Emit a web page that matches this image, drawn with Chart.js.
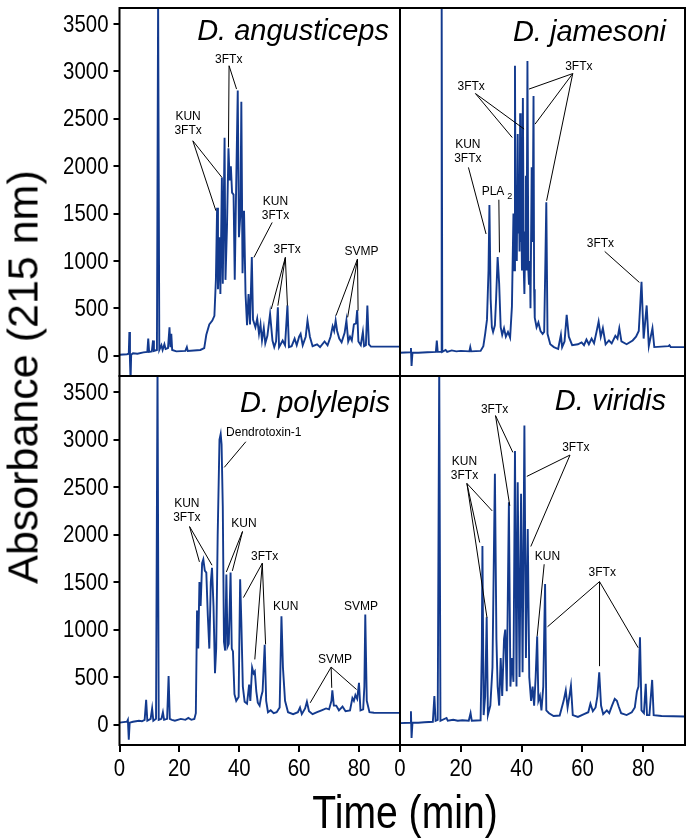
<!DOCTYPE html>
<html>
<head>
<meta charset="utf-8">
<script src="https://cdn.jsdelivr.net/npm/chart.js@4.4.0/dist/chart.umd.min.js"></script>
<style>
  html, body { margin: 0; padding: 0; background: #fff; }
  #page { position: relative; width: 688px; height: 839px; overflow: hidden; }
  .panel { position: absolute; }
  .title { position: absolute; white-space: nowrap; color: #000;
           font-family: 'Liberation Sans', Arial, sans-serif; }
  #ytitle { left: 23px; top: 377px; font-size: 43px; transform: translate(-50%, -50%) rotate(-90deg); }
  #xtitle { left: 405px; top: 812px; font-size: 46px; transform: translate(-50%, -50%) scaleX(0.85); }
</style>
</head>
<body>
<div id="page">
  <div class="panel" style="left:0;top:0;width:402px;height:378px"><canvas id="cTL"></canvas></div>
  <div class="panel" style="left:378px;top:0;width:310px;height:378px"><canvas id="cTR"></canvas></div>
  <div class="panel" style="left:0;top:374px;width:402px;height:460px"><canvas id="cBL"></canvas></div>
  <div class="panel" style="left:378px;top:374px;width:310px;height:460px"><canvas id="cBR"></canvas></div>
  <div class="title" id="ytitle">Absorbance (215 nm)</div>
  <div class="title" id="xtitle">Time (min)</div>
</div>
<script>
// tick labels
var timeTicks = [0, 20, 40, 60, 80];
var absTicks = [0, 500, 1000, 1500, 2000, 2500, 3000, 3500];

// chromatograms, [time (min), absorbance]
var angusticeps = [
  [0, 10], [2.5, 15], [3.1, 20], [3.3, 250], [3.5, -60], [3.7, -260], [3.9, 10], [4.5, 25], [6, 20], [8, 35],
  [9.3, 40], [9.6, 180], [9.9, 40], [10.8, 45], [11.2, 160], [11.5, 50], [12.5, 60], [12.9, 3800], [13.3, 60],
  [14, 110], [14.4, 60], [15, 120], [15.4, 70], [16.2, 80], [16.7, 300], [17, 90], [17.3, 230], [17.6, 60],
  [19, 45], [22, 50], [22.5, 90], [22.8, 50], [27, 60], [28.3, 80], [29, 220], [30, 330], [31, 370], [31.7, 420],
  [32.2, 800], [32.6, 1560], [32.9, 700], [33.4, 1250], [33.7, 650], [34.2, 1880], [34.5, 760], [35.1, 2300],
  [35.4, 800], [35.9, 1350], [36.4, 2190], [36.8, 1850], [37.2, 2000], [37.6, 1720], [38.1, 1700], [38.5, 800],
  [38.9, 1650], [39.5, 2800], [39.9, 1250], [40.4, 1500], [40.7, 2680], [41.1, 870], [41.6, 1530], [42.1, 650],
  [42.6, 320], [43.1, 650], [43.6, 330], [44.2, 1040], [44.6, 380], [45.4, 300], [46, 390], [46.6, 230],
  [47.1, 330], [47.6, 160], [48.2, 290], [48.7, 130], [49.4, 210], [50.3, 440], [51.1, 160], [51.7, 90],
  [52.3, 150], [52.9, 510], [53.3, 90], [54.5, 160], [55.3, 110], [56.1, 530], [56.6, 90], [57.5, 100],
  [58.5, 180], [59.2, 110], [60, 200], [60.5, 230], [61.2, 110], [62.2, 200], [62.8, 370], [63.6, 200],
  [64.5, 100], [66, 120], [67, 90], [68.5, 150], [69.5, 110], [70.5, 200], [71.2, 310], [71.7, 260], [72.2, 370],
  [72.7, 260], [73.4, 180], [74.2, 140], [75.2, 240], [75.8, 370], [76.4, 150], [77, 200], [77.6, 160],
  [78.3, 330], [79, 340], [79.4, 480], [79.8, 150], [80.6, 110], [81.3, 250], [81.7, 100], [82.3, 110],
  [82.8, 530], [83.3, 120], [84, 95], [88, 95], [93.7, 95]
];
var jamesoni = [
  [0, 30], [3.3, 35], [3.6, 80], [3.8, -110], [4.1, 30], [6, 30], [9, 35], [11.8, 40], [12.1, 160], [12.4, 40],
  [13.5, 40], [13.7, 3800], [13.9, 40], [15, 60], [15.5, 40], [17, 55], [18.5, 45], [20, 50], [22.8, 45],
  [23.1, 90], [23.4, 45], [26.5, 50], [27.4, 100], [28, 230], [28.6, 380], [29.1, 900], [29.4, 1590], [29.8, 600],
  [30.2, 300], [30.6, 250], [31.2, 320], [31.6, 600], [32.1, 1040], [32.6, 760], [33.1, 300], [33.6, 220],
  [34.2, 290], [34.8, 200], [35.5, 250], [36.2, 190], [36.8, 520], [37.3, 1500], [37.5, 900], [37.8, 3060],
  [38, 1300], [38.2, 1800], [38.4, 1000], [38.7, 2340], [38.9, 1300], [39.1, 1700], [39.3, 1100], [39.5, 2560],
  [39.7, 1200], [39.9, 1500], [40.1, 900], [40.4, 2720], [40.7, 900], [40.9, 650], [41.2, 1300], [41.4, 1900],
  [41.6, 900], [41.9, 3110], [42.2, 900], [42.4, 750], [42.7, 1000], [42.9, 500], [43.3, 1990], [43.6, 1200],
  [43.9, 2740], [44.1, 700], [44.3, 400], [44.9, 300], [45.5, 350], [46.2, 260], [46.9, 230],
  [47.4, 250], [47.8, 1000], [48.1, 1620], [48.5, 230], [49.4, 120], [50.6, 90], [52, 70], [52.9, 220],
  [53.3, 90], [54.1, 150], [54.8, 430], [55.5, 200], [56.6, 110], [58.5, 120], [59.7, 140], [60.5, 110],
  [61.3, 170], [62.1, 120], [63, 180], [63.8, 130], [64.6, 250], [65.3, 360], [66, 200], [66.7, 290],
  [67.6, 120], [68.7, 160], [69.6, 130], [70.8, 210], [71.5, 180], [72.1, 290], [72.8, 150], [74.5, 120],
  [76.5, 160], [77.6, 200], [78.5, 260], [79.4, 780], [80.1, 180], [81.1, 530], [81.8, 100], [83, 290],
  [83.6, 90], [88.3, 100], [88.6, 110], [89, 90], [93.7, 90]
];
var polylepis = [
  [0, 20], [2.5, 30], [2.8, 50], [3.1, -160], [3.4, 20], [4.5, 30], [6.5, 40], [7.5, 35], [8.4, 50], [8.9, 260],
  [9.3, 40], [10.4, 60], [10.9, 170], [11.3, 40], [12.2, 60], [12.7, 3800], [13.1, 50], [14, 60], [14.5, 130],
  [14.9, 50], [15.9, 60], [16.4, 510], [16.8, 60], [17.5, 50], [18.5, 40], [20.5, 60], [22, 50], [23, 70],
  [24, 50], [25, 60], [25.5, 120], [25.9, 1200], [26.3, 800], [26.7, 1500], [27.1, 1250], [27.6, 1700],
  [28, 1740], [28.5, 1620], [29, 1600], [29.5, 1150], [30, 800], [30.5, 1500], [30.9, 1650], [31.4, 1250],
  [31.9, 540], [32.3, 800], [32.8, 2000], [33.4, 3000], [33.8, 3060], [34.1, 2950], [34.5, 2300], [34.9, 870],
  [35.3, 780], [35.7, 1580], [36.1, 820], [36.5, 850], [37.1, 1600], [37.5, 800], [37.9, 770], [38.4, 320],
  [39, 250], [39.8, 290], [40.3, 1530], [40.7, 1080], [41.2, 400], [41.8, 240], [42.6, 220], [43.3, 420],
  [43.7, 250], [44.3, 600], [44.8, 540], [45.2, 560], [45.7, 350], [46.2, 230], [46.8, 200], [47.3, 290],
  [47.8, 350], [48.5, 840], [49, 250], [49.6, 130], [50.5, 150], [51.5, 120], [52.5, 130], [53.5, 180],
  [54.1, 1140], [54.6, 600], [55.3, 250], [56.3, 130], [58, 110], [59.6, 130], [60.3, 180], [60.9, 110],
  [62, 170], [62.6, 240], [63.3, 140], [64.5, 110], [66, 130], [67.5, 150], [69, 170], [70, 160], [70.8, 250],
  [71.1, 360], [71.6, 200], [72.4, 200], [73.3, 150], [74.5, 190], [75.5, 140], [77, 150], [77.8, 280],
  [78.3, 250], [78.8, 310], [79.4, 270], [80, 440], [80.5, 150], [81.4, 160], [81.8, 400], [82.1, 1160],
  [82.6, 250], [83.5, 130], [85, 125], [93.7, 123]
];
var viridis = [
  [0, 15], [3.3, 20], [3.6, 140], [3.8, -140], [4.1, 20], [6, 20], [8, 25], [10.8, 30], [11.3, 300], [11.7, 40],
  [12.4, 50], [12.9, 3800], [13.3, 40], [15.3, 70], [15.7, 40], [17.5, 50], [19, 40], [20.5, 45], [22.6, 40],
  [23.2, 120], [23.6, 40], [26.5, 45], [26.9, 800], [27.1, 1880], [27.5, 100], [28, 300], [28.5, 1130],
  [28.9, 100], [29.7, 200], [30.4, 600], [31.2, 2640], [31.7, 900], [32.1, 400], [32.6, 200], [33.1, 700],
  [33.6, 300], [34.2, 900], [34.6, 1000], [35.1, 350], [35.8, 2340], [36.3, 400], [36.8, 700], [37.3, 450],
  [37.8, 2880], [38.3, 400], [38.7, 2550], [39.3, 500], [39.8, 2430], [40.3, 550], [40.9, 3150], [41.4, 700],
  [42, 2060], [42.5, 500], [43.1, 250], [43.6, 400], [44.1, 200], [44.6, 500], [45.1, 930], [45.5, 250],
  [46, 300], [46.5, 150], [47.1, 400], [47.7, 1480], [48.1, 150], [49, 120], [50.5, 90], [52.5, 95],
  [53.8, 250], [54.5, 360], [55.1, 180], [55.7, 300], [56.2, 410], [56.8, 100], [58.5, 80], [60.5, 110],
  [61.9, 130], [62.6, 220], [63.4, 140], [64.3, 180], [64.9, 300], [65.5, 550], [66.1, 200], [66.8, 110],
  [68, 150], [68.8, 120], [69.7, 200], [70.6, 270], [71.3, 250], [71.9, 190], [72.7, 120], [74.5, 100],
  [76.2, 130], [77.2, 180], [77.9, 350], [78.4, 400], [78.9, 920], [79.4, 150], [80.2, 120], [80.8, 430],
  [81.2, 100], [82, 100], [82.9, 470], [83.4, 100], [86, 90], [93.7, 85]
];

// peak labels: text block centre, leader start and leader ends, all in (min, absorbance)
var angusticepsNotes = [
  { text: ['KUN', '3FTx'], at: [22.9, 2453], from: [24.5, 2268], to: [[34.2, 1882], [32.2, 1530]] },
  { text: ['3FTx'], at: [36.5, 3123], from: [36.6, 3060], to: [[36.4, 2198], [39.1, 2814]] },
  { text: ['KUN', '3FTx'], at: [52.1, 1550], from: [51, 1406], to: [[44.9, 1037]] },
  { text: ['3FTx'], at: [56, 1118], from: [55.4, 1037], to: [[50.7, 492], [52.9, 527], [56.1, 527]] },
  { text: ['SVMP'], at: [80.8, 1097], from: [79.5, 1020], to: [[72.3, 422], [76.2, 404], [79.7, 475]] }
];
var jamesoniNotes = [
  { text: ['3FTx'], at: [23.4, 2838], from: [24.8, 2767], to: [[36.9, 2303], [40.8, 2392]] },
  { text: ['3FTx'], at: [58.8, 3049], from: [56.8, 2978], to: [[42.4, 2814], [44.4, 2444], [48.2, 1635]] },
  { text: ['KUN', '3FTx'], at: [22.3, 2152], from: [22.5, 1987], to: [[28.3, 1284]] },
  { text: ['PLA'], sub: '2', at: [31.9, 1730], from: [32.5, 1646], to: [[32.7, 1090]] },
  { text: ['3FTx'], at: [65.9, 1187], from: [67.3, 1100], to: [[78.7, 773]] }
];
var polylepisNotes = [
  { text: ['Dendrotoxin-1'], at: [48.2, 3070], from: [42.2, 2978], to: [[35, 2708]] },
  { text: ['KUN', '3FTx'], at: [22.5, 2250], from: [23.4, 2085], to: [[26.7, 1713], [30.9, 1678]] },
  { text: ['KUN'], at: [41.6, 2113], from: [41.1, 2033], to: [[35.7, 1607], [37.7, 1618]] },
  { text: ['3FTx'], at: [48.5, 1767], from: [47.7, 1699], to: [[41.4, 1337], [45.2, 686], [48.8, 844]] },
  { text: ['KUN'], at: [55.5, 1245], from: null, to: [] },
  { text: ['SVMP'], at: [80.7, 1245], from: null, to: [] },
  { text: ['SVMP'], at: [72, 686], from: [70.7, 605], to: [[63.7, 229], [70.9, 387], [79.2, 369]] }
];
var viridisNotes = [
  { text: ['3FTx'], at: [31.1, 3318], from: [31.4, 3253], to: [[36.1, 2303], [37.1, 2866]] },
  { text: ['3FTx'], at: [57.8, 2919], from: [55.9, 2838], to: [[41.7, 2613], [43, 1875]] },
  { text: ['KUN', '3FTx'], at: [21.2, 2690], from: [22, 2539], to: [[30.3, 2250], [26.2, 1917], [28.6, 1125]] },
  { text: ['KUN'], at: [48.5, 1772], from: [47.4, 1688], to: [[45.1, 932]] },
  { text: ['3FTx'], at: [66.5, 1600], from: [65.6, 1505], to: [[48.5, 1030], [65.6, 615], [78.3, 809]] }
];

var LINE = '#133a8e';
var SANS = "'Liberation Sans', Arial, sans-serif";

// narrow numbers like the figure's axis font
function narrowText(ctx, txt, x, y, align, base) {
  ctx.save();
  ctx.translate(x, y);
  ctx.scale(0.85, 1);
  ctx.textAlign = align;
  ctx.textBaseline = base;
  ctx.fillText(txt, 0, 0);
  ctx.restore();
}

function decor(opt, notes) {
  return {
    id: 'decor',
    afterDatasetsDraw: function (chart) {
      var ctx = chart.ctx, a = chart.chartArea;
      var xs = chart.scales.x, ys = chart.scales.y;
      var px = function (p) { return [xs.getPixelForValue(p[0]), ys.getPixelForValue(p[1])]; };
      ctx.save();
      ctx.strokeStyle = '#000';
      ctx.fillStyle = '#000';
      ctx.lineWidth = 1;
      notes.forEach(function (n) {
        if (n.from) {
          var s = px(n.from);
          n.to.forEach(function (t) {
            var e = px(t);
            ctx.beginPath();
            ctx.moveTo(s[0], s[1]);
            ctx.lineTo(e[0], e[1]);
            ctx.stroke();
          });
        }
        var c = px(n.at);
        ctx.font = '12px ' + SANS;
        ctx.textBaseline = 'middle';
        if (n.sub) {
          var w1 = ctx.measureText(n.text[0]).width;
          ctx.font = '9px ' + SANS;
          var w2 = ctx.measureText(n.sub).width;
          var x0 = c[0] - (w1 + 3 + w2) / 2;
          ctx.textAlign = 'left';
          ctx.font = '12px ' + SANS;
          ctx.fillText(n.text[0], x0, c[1]);
          ctx.font = '9px ' + SANS;
          ctx.fillText(n.sub, x0 + w1 + 3, c[1] + 5);
        } else {
          ctx.textAlign = 'center';
          var lh = 14, y0 = c[1] - (n.text.length - 1) * lh / 2;
          n.text.forEach(function (t, i) { ctx.fillText(t, c[0], y0 + i * lh); });
        }
      });
      ctx.lineWidth = 2;
      ctx.strokeRect(a.left, a.top, a.right - a.left, a.bottom - a.top);
      ctx.font = 'italic 29px ' + SANS;
      ctx.textAlign = 'right';
      ctx.textBaseline = 'alphabetic';
      ctx.fillText(opt.title, a.right - opt.titleDx, a.top + opt.titleDy);
      // tick labels
      ctx.font = '24px ' + SANS;
      if (opt.showY) {
        ys.ticks.forEach(function (t) {
          narrowText(ctx, String(t.value), a.left - 11, ys.getPixelForValue(t.value) + 1, 'right', 'middle');
        });
      }
      if (opt.showX) {
        xs.ticks.forEach(function (t) {
          narrowText(ctx, String(t.value), xs.getPixelForValue(t.value), a.bottom + 12, 'center', 'top');
        });
      }
      ctx.restore();
    }
  };
}

function fixScale(size, vertical) {
  return function (scale) {
    if (vertical) { scale.width = size; } else { scale.height = size; }
    scale.paddingTop = 0; scale.paddingBottom = 0;
    scale.paddingLeft = 0; scale.paddingRight = 0;
  };
}

function makePanel(id, series, notes, opt) {
  new Chart(document.getElementById(id), {
    type: 'line',
    data: {
      datasets: [{
        data: series.map(function (p) { return { x: p[0], y: p[1] }; }),
        borderColor: LINE,
        borderWidth: 1.9,
        pointRadius: 0,
        tension: 0,
        fill: false,
        clip: 0
      }]
    },
    options: {
      responsive: true,
      maintainAspectRatio: false,
      animation: false,
      events: [],
      layout: { padding: opt.padding },
      plugins: { legend: { display: false }, tooltip: { enabled: false } },
      scales: {
        x: {
          type: 'linear', min: 0, max: 93.7,
          display: opt.showX,
          afterBuildTicks: function (s) { s.ticks = timeTicks.map(function (v) { return { value: v }; }); },
          afterFit: fixScale(opt.showX ? 89 : 0, false),
          border: { display: false },
          grid: { drawOnChartArea: false, drawTicks: true, tickLength: 7, color: '#000', lineWidth: 2 },
          ticks: { display: false }
        },
        y: {
          type: 'linear', min: -215, max: 3670,
          display: opt.showY,
          afterBuildTicks: function (s) { s.ticks = absTicks.map(function (v) { return { value: v }; }); },
          afterFit: fixScale(opt.showY ? 119.5 : 0, true),
          border: { display: false },
          grid: { drawOnChartArea: false, drawTicks: true, tickLength: 6, color: '#000', lineWidth: 2 },
          ticks: { display: false }
        }
      }
    },
    plugins: [decor(opt, notes)]
  });
}

makePanel('cTL', angusticeps, angusticepsNotes, {
  title: 'D. angusticeps', titleDx: 11, titleDy: 32, showX: false, showY: true,
  padding: { top: 8, right: 2, bottom: 2, left: 0 }
});
makePanel('cTR', jamesoni, jamesoniNotes, {
  title: 'D. jamesoni', titleDx: 19, titleDy: 33, showX: false, showY: false,
  padding: { top: 8, right: 3, bottom: 2, left: 22 }
});
makePanel('cBL', polylepis, polylepisNotes, {
  title: 'D. polylepis', titleDx: 10, titleDy: 36, showX: true, showY: true,
  padding: { top: 2, right: 2, bottom: 0, left: 0 }
});
makePanel('cBR', viridis, viridisNotes, {
  title: 'D. viridis', titleDx: 19, titleDy: 34, showX: true, showY: false,
  padding: { top: 2, right: 3, bottom: 0, left: 22 }
});
</script>
</body>
</html>
